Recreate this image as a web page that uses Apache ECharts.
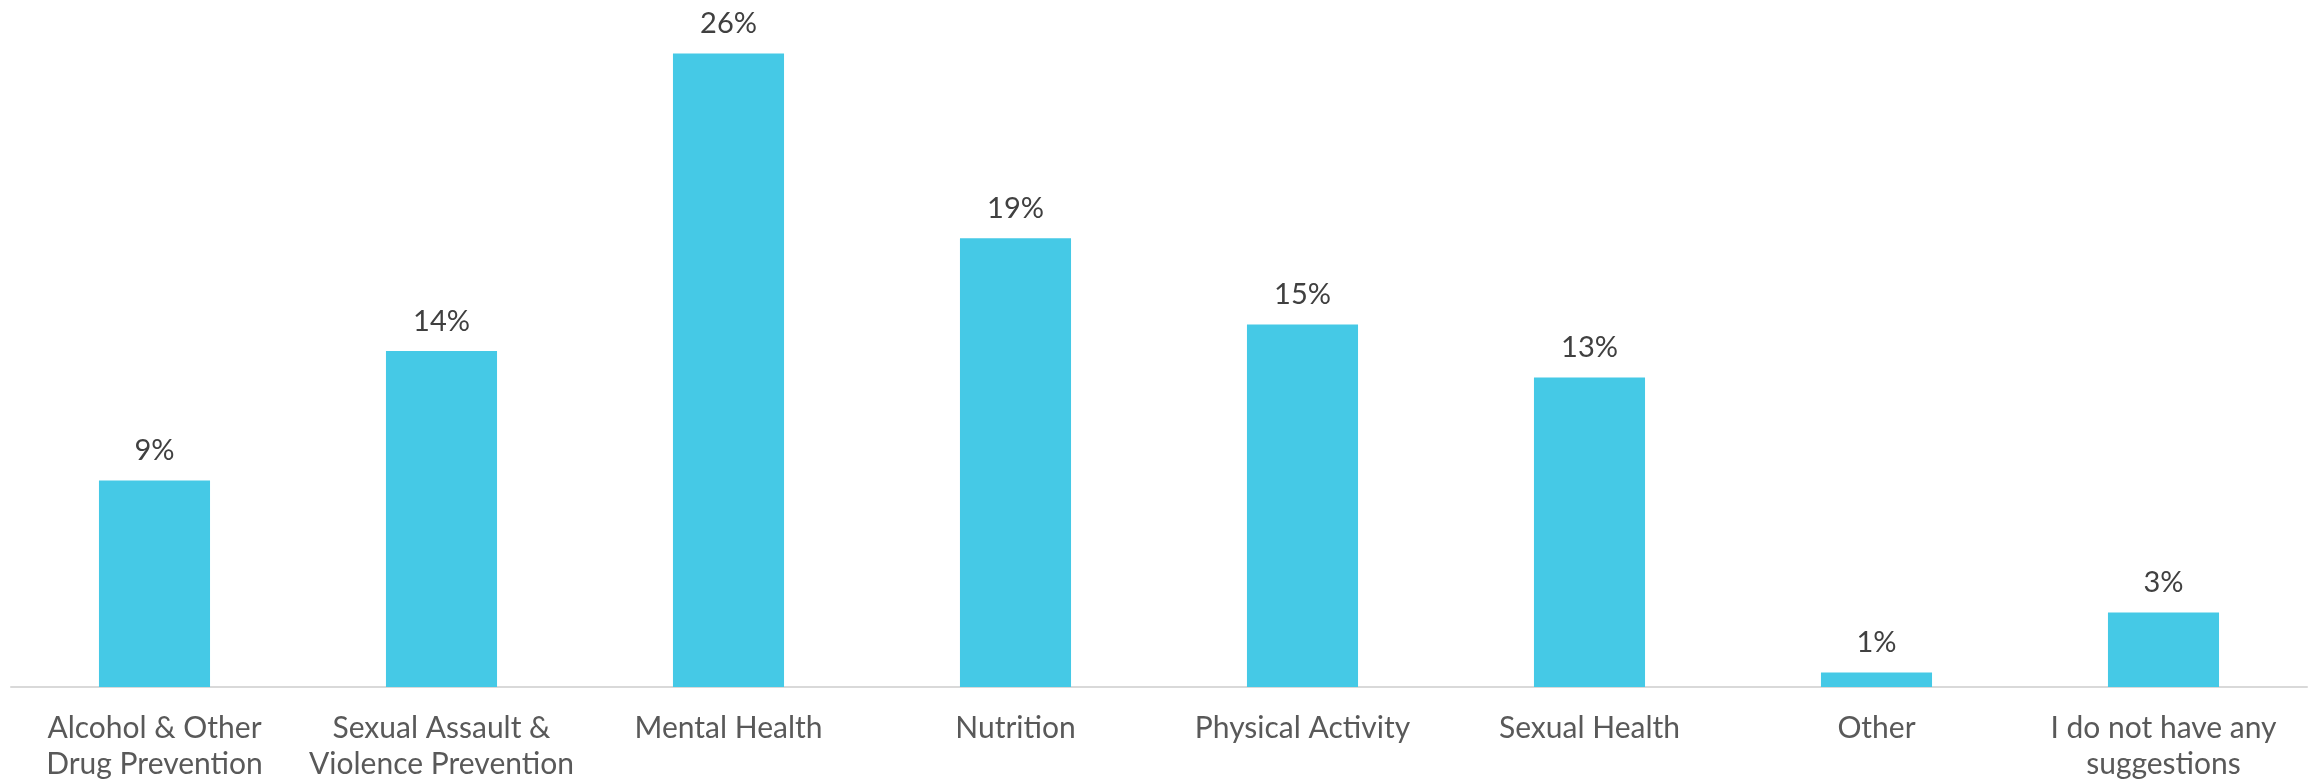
<!DOCTYPE html>
<html>
<head>
<meta charset="utf-8">
<script src="https://cdn.jsdelivr.net/npm/echarts@6/dist/echarts.min.js"></script>
<style>
html,body{margin:0;padding:0;background:#fff;}
#chart{width:2315px;height:783px;}
</style>
</head>
<body>
<div id="chart"></div>
<script>
const categories = [
  "Alcohol & Other\nDrug Prevention",
  "Sexual Assault &\nViolence Prevention",
  "Mental Health",
  "Nutrition",
  "Physical Activity",
  "Sexual Health",
  "Other",
  "I do not have any\nsuggestions"
];
const values = [8.6, 14.0, 26.4, 18.7, 15.1, 12.9, 0.6, 3.1];

const chart = echarts.init(document.getElementById('chart'));
chart.setOption({
  animation: false,
  backgroundColor: '#ffffff',
  grid: { left: 11, right: 8, top: 15, bottom: 96, containLabel: false },
  xAxis: {
    type: 'category',
    data: categories,
    axisLine: { show: true, lineStyle: { color: '#d9d9d9', width: 2 } },
    axisTick: { show: false },
    axisLabel: {
      color: '#595959',
      fontFamily: 'Lato, "Open Sans", sans-serif',
      fontSize: 30,
      lineHeight: 36,
      margin: 23,
      interval: 0
    }
  },
  yAxis: {
    type: 'value',
    min: 0,
    max: 28,
    show: false,
    splitLine: { show: false }
  },
  series: [{
    type: 'bar',
    data: values,
    barWidth: '38.7%',
    itemStyle: { color: '#45C9E6' },
    label: {
      show: true,
      position: 'top',
      distance: 15,
      color: '#404040',
      fontFamily: 'Lato, "Open Sans", sans-serif',
      fontSize: 29,
      formatter: p => Math.round(p.value) + '%'
    }
  }]
});
</script>
</body>
</html>
